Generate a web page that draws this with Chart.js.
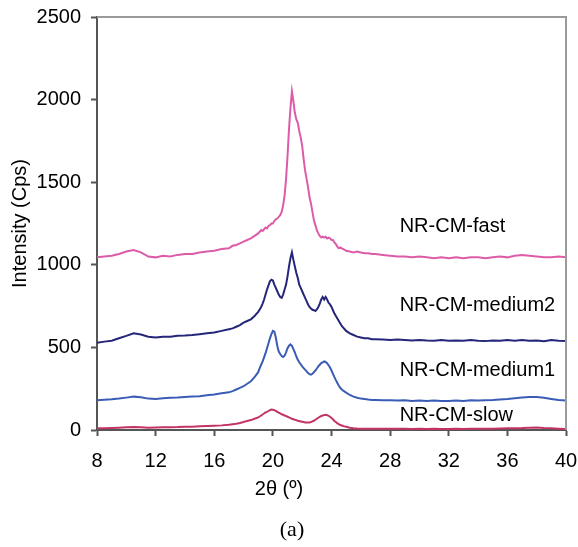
<!DOCTYPE html>
<html>
<head>
<meta charset="utf-8">
<script src="https://cdn.jsdelivr.net/npm/chart.js@4.4.0/dist/chart.umd.min.js"></script>
<style>
  html, body { margin: 0; padding: 0; background: #fff; }
  #wrap { position: relative; width: 578px; height: 547px; }
</style>
</head>
<body>
<div id="wrap"><canvas id="xrd" width="578" height="547"></canvas></div>
<script>
// ── Data (2θ in degrees, intensity in Cps) ──────────────────
const twoTheta = [
  8, 8.5, 9, 9.5, 10, 10.5, 11, 11.5, 12, 12.5, 13, 13.5, 14, 14.5, 15, 15.5, 16, 16.5,
  17, 17.25, 17.5, 17.75, 18, 18.25, 18.5, 18.75,
  19.0, 19.1, 19.2, 19.3, 19.4, 19.5, 19.6, 19.7, 19.8, 19.9,
  20.0, 20.1, 20.2, 20.3, 20.4, 20.5, 20.6, 20.7, 20.8, 20.9,
  21.0, 21.1, 21.2, 21.3, 21.4, 21.5, 21.6, 21.7, 21.8, 21.9,
  22.0, 22.1, 22.2, 22.3, 22.4, 22.5, 22.6, 22.7, 22.8, 22.9,
  23.0, 23.1, 23.2, 23.3, 23.4, 23.5, 23.6, 23.7, 23.8, 23.9,
  24.0, 24.1, 24.2, 24.3, 24.4, 24.5, 24.6, 24.7, 24.8, 24.9,
  25, 25.25, 25.5, 25.75, 26, 26.25, 26.5, 26.75,
  27, 27.5, 28, 28.5, 29, 29.5, 30, 30.5, 31, 31.5, 32, 32.5, 33, 33.5, 34, 34.5,
  35, 35.5, 36, 36.5, 37, 37.5, 38, 38.5, 39, 39.5, 40
];

const fast = [
  1045, 1050, 1055, 1065, 1080, 1090, 1075, 1050, 1045, 1055, 1050, 1060, 1065, 1065, 1075, 1080, 1085, 1095,
  1100, 1115, 1120, 1130, 1140, 1150, 1160, 1175,
  1190, 1200, 1210, 1205, 1215, 1225, 1220, 1235, 1240, 1250,
  1250, 1265, 1275, 1280, 1290, 1300, 1320, 1360, 1420, 1520,
  1660, 1820, 1950, 2050, 1990, 1920, 1880, 1860, 1810, 1770,
  1720, 1640, 1570, 1520, 1470, 1410, 1370, 1320, 1270, 1240,
  1210, 1190, 1175, 1165, 1170, 1165, 1170, 1160, 1165, 1160,
  1150, 1150, 1135, 1125, 1110, 1100, 1105, 1100, 1095, 1090,
  1085, 1080, 1075, 1080, 1075, 1070, 1070, 1065,
  1065, 1060, 1055, 1050, 1050, 1045, 1050, 1045, 1040, 1045, 1040, 1045, 1040, 1045, 1045, 1040,
  1045, 1050, 1045, 1055, 1060, 1055, 1050, 1045, 1045, 1050, 1045
];

const medium2 = [
  528, 535, 540, 555, 570, 585, 578, 565, 560, 565, 565, 570, 572, 575, 580, 585, 590, 600,
  610, 615, 625, 635, 650, 660, 670, 690,
  715, 730, 745, 765, 790, 820, 850, 875, 900, 910,
  905, 880, 860, 840, 820, 805, 800, 820, 850, 880,
  930, 990, 1040, 1075, 1030, 990, 950, 920, 880, 860,
  840, 820, 800, 780, 760, 745, 735, 728, 725, 720,
  730, 745, 765, 790, 805, 790, 805, 790, 770, 760,
  745, 725, 705, 690, 675, 660, 645, 630, 620, 610,
  600, 585, 575, 565, 560, 555, 555, 550,
  550, 548, 545, 548, 545, 542, 545, 542, 540, 545, 540, 542, 540, 545, 540, 538,
  542, 540, 545, 540, 545, 540, 542, 538, 545, 540, 538
];

const medium1 = [
  180, 183, 186, 190, 196, 202, 198, 190, 188, 192, 195, 197, 200, 203, 205, 210, 215, 222,
  228, 235, 245, 255, 265, 280, 295, 320,
  350, 375, 395, 415, 440, 465, 495, 525, 555, 580,
  600, 595, 560, 510, 475, 460, 448, 442, 450, 470,
  495, 510, 518, 510, 490, 470, 445, 425, 410, 398,
  385, 375, 365, 355, 345, 338, 335, 340, 350, 360,
  372, 385, 395, 405, 410, 415, 412, 405, 392, 378,
  360, 340, 320, 302, 285, 268, 255, 245, 238, 232,
  226, 212, 202, 195, 190, 187, 184, 182,
  182, 180, 180, 178, 180, 176, 178, 175, 178, 176, 175, 178, 176, 180, 178, 180,
  182, 185, 188, 192, 196, 200, 200, 195, 188, 182, 178
];

const slow = [
  10, 10, 12, 14, 16, 18, 16, 14, 15, 16, 17, 18, 20, 20, 22, 24, 26, 28,
  32, 35, 38, 42, 48, 55, 60, 68,
  76, 82, 88, 94, 100, 106, 110, 115, 120, 124,
  122, 120, 116, 110, 105, 100, 95, 92, 88, 85,
  80, 76, 72, 68, 65, 62, 60, 56, 54, 52,
  50, 48, 46, 45, 45, 46, 48, 52, 56, 62,
  68, 74, 80, 85, 88, 90, 92, 90, 86, 80,
  72, 65, 55, 48, 40, 35, 30, 27, 24, 22,
  20, 14, 11, 9, 8, 8, 8, 7,
  7, 8, 7, 8, 7, 6, 7, 6, 7, 6, 6, 7, 6, 7, 7, 8,
  8, 9, 10, 11, 12, 14, 15, 12, 10, 8, 6
];

const xTicks = [8, 12, 16, 20, 24, 28, 32, 36, 40];
const seriesNames = ['NR-CM-fast', 'NR-CM-medium2', 'NR-CM-medium1', 'NR-CM-slow'];
const seriesColors = ['#dd5ca8', '#25267a', '#3a5cb6', '#c23468'];
// label anchor: [2θ, intensity] where each curve's name is written
const labelAnchors = [[28.65, 1230], [28.65, 755], [28.65, 360], [28.65, 90]];

const SANS = '"Liberation Sans", Arial, sans-serif';

const seriesValues = [fast, medium2, medium1, slow];

// ── Plugin: frame, in-plot labels, x title and caption ─────
const decorations = {
  id: 'decorations',
  afterDraw(chart) {
    const { ctx, chartArea: a, scales } = chart;
    ctx.save();
    // grey top/right frame
    ctx.strokeStyle = '#9a9a9a';
    ctx.lineWidth = 2;
    ctx.beginPath();
    ctx.moveTo(a.left, a.top);
    ctx.lineTo(a.right, a.top);
    ctx.lineTo(a.right, a.bottom);
    ctx.stroke();

    ctx.fillStyle = '#000';
    ctx.font = '20px ' + SANS;
    ctx.textBaseline = 'middle';
    ctx.textAlign = 'left';
    seriesNames.forEach((name, i) => {
      const [x, y] = labelAnchors[i];
      ctx.fillText(name, scales.x.getPixelForValue(x), scales.y.getPixelForValue(y));
    });

    ctx.textAlign = 'center';
    ctx.fillText('2\u03b8 (\u00ba)', 279, 489);
    ctx.font = '22px "Liberation Serif", "Times New Roman", serif';
    ctx.fillText('(a)', 292, 530);
    ctx.restore();
  },
};

const ctx = document.getElementById('xrd').getContext('2d');
new Chart(ctx, {
  type: 'line',
  data: {
    datasets: seriesValues.map((vals, i) => ({
      label: seriesNames[i],
      data: twoTheta.map((x, j) => ({ x, y: vals[j] })),
      borderColor: seriesColors[i],
      borderWidth: 2,
      pointRadius: 0,
      tension: 0,
      fill: false,
    })),
  },
  options: {
    responsive: false,
    animation: false,
    layout: { padding: { top: 17, right: 12, left: 0, bottom: 0 } },
    plugins: { legend: { display: false }, tooltip: { enabled: false } },
    scales: {
      x: {
        type: 'linear',
        min: 8,
        max: 40,
        afterFit: (s) => { s.height = 117; s.paddingLeft = 0; s.paddingRight = 0; },
        afterBuildTicks: (s) => { s.ticks = xTicks.map(v => ({ value: v })); },
        grid: { drawOnChartArea: false, drawTicks: true, tickLength: 6, tickWidth: 2, color: '#555' },
        border: { color: '#555', width: 2 },
        ticks: { color: '#000', font: { family: SANS, size: 20 }, padding: 13, maxRotation: 0, callback: v => String(v) },
      },
      y: {
        min: 0,
        max: 2500,
        afterFit: (s) => { s.width = 97; s.paddingTop = 0; s.paddingBottom = 0; },
        grid: { drawOnChartArea: false, drawTicks: true, tickLength: 6, tickWidth: 2, color: '#555' },
        border: { color: '#555', width: 2 },
        ticks: { stepSize: 500, color: '#000', font: { family: SANS, size: 20 }, padding: 10, callback: v => String(v) },
        title: { display: true, text: 'Intensity (Cps)', color: '#000', font: { family: SANS, size: 20 }, padding: { top: 8, bottom: 0 } },
      },
    },
  },
  plugins: [decorations],
});
</script>
</body>
</html>
